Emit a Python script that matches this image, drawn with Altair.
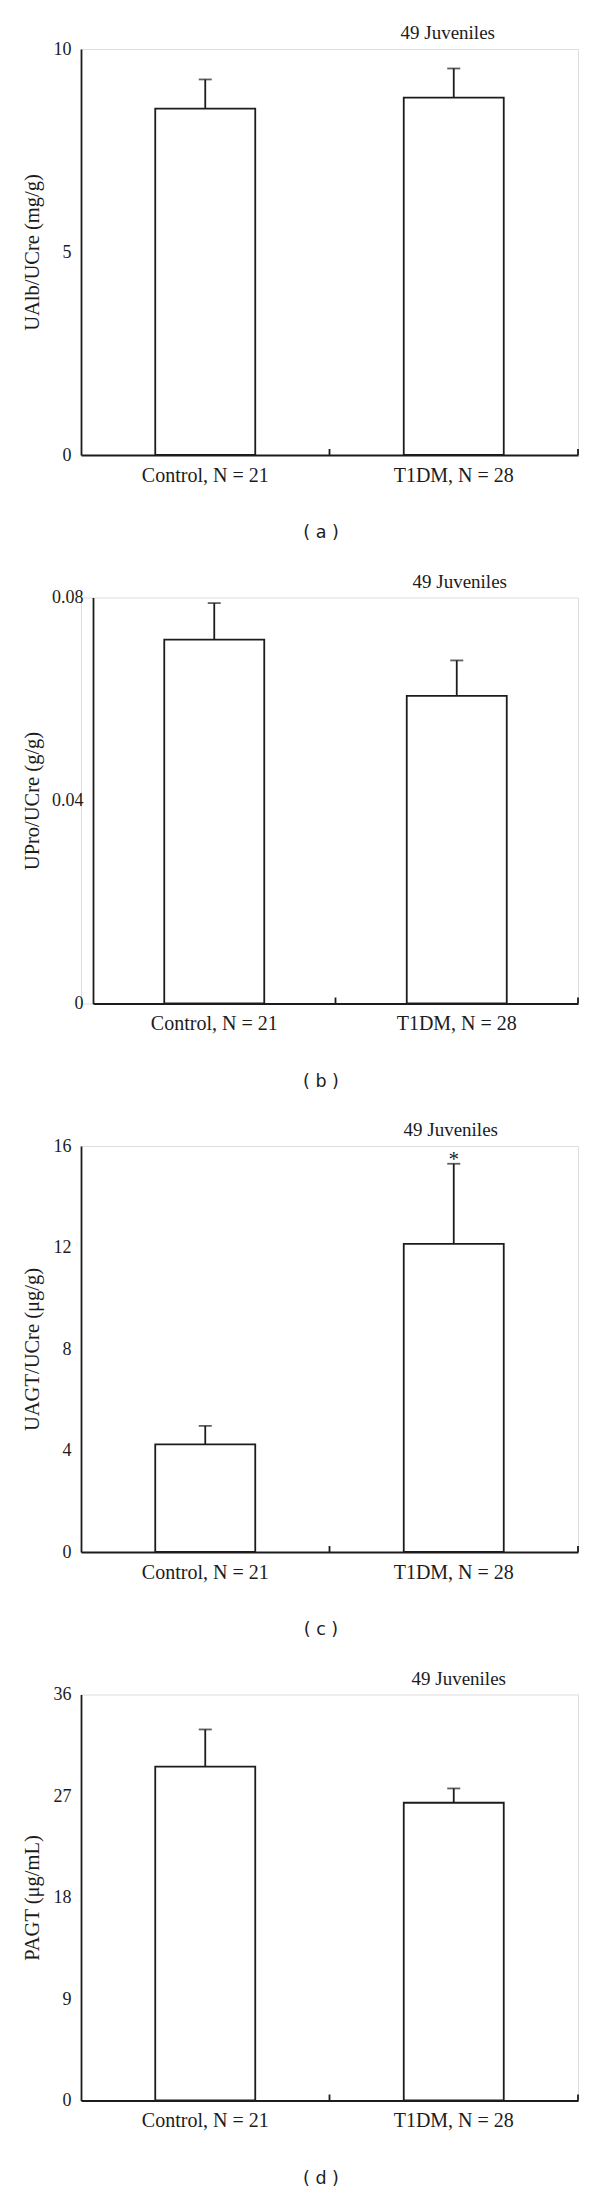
import altair as alt
import pandas as pd

# ---- data ----
categories = ["Control, N = 21", "T1DM, N = 28"]
panel_labels = ["( a )", "( b )", "( c )", "( d )"]
header_text = "49 Juveniles"
y_titles = ["UAlb/UCre (mg/g)", "UPro/UCre (g/g)", "UAGT/UCre (\u03bcg/g)", "PAGT (\u03bcg/mL)"]
y_max = [10, 0.08, 16, 36]
y_ticks = [[0, 5, 10], [0, 0.04, 0.08], [0, 4, 8, 12, 16], [0, 9, 18, 27, 36]]
y_formats = ["d", ".2~f", "d", "d"]

mean_a = [8.53, 8.80]
se_a = [0.72, 0.72]
mean_b = [0.0717, 0.0606]
se_b = [0.0072, 0.0070]
mean_c = [4.24, 12.14]
se_c = [0.73, 3.16]
mean_d = [29.6, 26.4]
se_d = [3.3, 1.27]
significance = [["", ""], ["", ""], ["", "*"], ["", ""]]

means = [mean_a, mean_b, mean_c, mean_d]
ses = [se_a, se_b, se_c, se_d]

# ---- layout / style ----
W = 497
H = 406
axis_shift = [0, 12, 0, 0]   # panel (b) has its y axis moved right
header_dx = [-6, 3, -3, 5]
SERIF = "Liberation Serif"
INK = "#1c1c1c"


def panel(i):
    df = pd.DataFrame({
        "group": categories,
        "mean": means[i],
        "hi": [m + s for m, s in zip(means[i], ses[i])],
        "sig": significance[i],
    })
    sh = axis_shift[i]
    xs = alt.Scale(domain=categories, paddingInner=0, paddingOuter=0, range=[sh, W])
    ys = alt.Scale(domain=[0, y_max[i]], nice=False, zero=True)
    x_enc = alt.X("group:N", scale=xs, sort=categories,
                  axis=alt.Axis(title=None, ticks=False, labelAngle=0, labelPadding=10,
                                labelFont=SERIF, labelFontSize=20, labelColor=INK,
                                domainColor=INK, domainWidth=1.8))
    y_enc = alt.Y("mean:Q", scale=ys,
                  axis=alt.Axis(values=y_ticks[i], format=y_formats[i], ticks=False, grid=False,
                                labelPadding=10, labelFont=SERIF, labelFontSize=18, labelColor=INK,
                                domainColor=INK, domainWidth=1.8, offset=-sh,
                                title=y_titles[i], titleFont=SERIF, titleFontSize=20.5,
                                titleFontWeight="normal", titleColor=INK,
                                titleBaseline="middle", titleX=-48.5 - sh))
    base = alt.Chart(df)
    bars = base.mark_bar(size=100, fill="white", stroke=INK, strokeWidth=1.8).encode(x=x_enc, y=y_enc)
    err = base.mark_rule(color=INK, strokeWidth=1.8).encode(
        x=alt.X("group:N", scale=xs, sort=categories), y="mean:Q", y2="hi:Q")
    cap = base.mark_tick(size=13, thickness=1.8, color=INK).encode(
        x=alt.X("group:N", scale=xs, sort=categories), y=alt.Y("hi:Q", scale=ys))
    ticks = base.mark_rule(color=INK, strokeWidth=1.8).encode(
        x=alt.X("group:N", scale=xs, sort=categories, bandPosition=1),
        y=alt.value(H), y2=alt.value(H - 6))
    sig = base.mark_text(font=SERIF, fontSize=21, color=INK, baseline="alphabetic", dy=2).encode(
        x=alt.X("group:N", scale=xs, sort=categories), y=alt.Y("hi:Q", scale=ys), text="sig:N")
    head_df = pd.DataFrame({"group": [categories[1]], "t": [header_text]})
    head = alt.Chart(head_df).mark_text(font=SERIF, fontSize=19, color=INK, baseline="middle",
                                        dx=header_dx[i]).encode(
        x=alt.X("group:N", scale=xs, sort=categories), y=alt.value(-16), text="t:N")
    cap_df = pd.DataFrame({"t": [panel_labels[i]]})
    caption = alt.Chart(cap_df).mark_text(font="DejaVu Sans", fontSize=17.5, color=INK,
                                          baseline="middle").encode(
        x=alt.value(240), y=alt.value(H + 78), text="t:N")
    return alt.layer(bars, err, cap, ticks, sig, head, caption).properties(width=W, height=H)


chart = alt.vconcat(*[panel(i) for i in range(4)], spacing=142.5, bounds="flush").properties(
    padding={"left": 14, "top": 15, "right": 5, "bottom": 0}
).configure_view(stroke=None).configure(background="white")

chart.save("out.html", embed_options={"renderer": "svg", "actions": False})
